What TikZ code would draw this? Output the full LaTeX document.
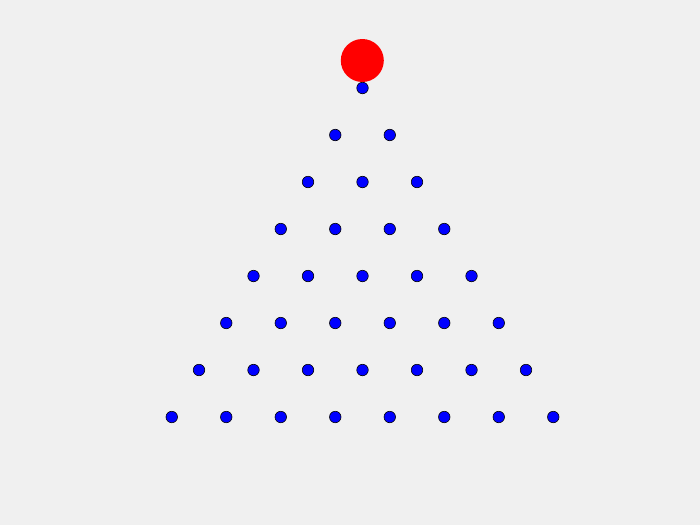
\documentclass[tikz,border=0pt]{standalone}
\definecolor{bg}{HTML}{F0F0F0}
\begin{document}
\begin{tikzpicture}[x=1pt,y=-1pt,
  peg/.style={circle,draw=black,line width=0.6pt,fill=blue,minimum size=11.5pt,inner sep=0pt},
  ball/.style={circle,fill=red,minimum size=43pt,inner sep=0pt}]
\fill[bg] (0,0) rectangle (700,525);
\useasboundingbox (0,0) rectangle (700,525);
\foreach \k in {1,...,8}{
  \foreach \j in {1,...,\k}{
    \node[peg] (p\k-\j) at ({362.5+(\j-1-(\k-1)/2)*54.5},{88+(\k-1)*47}) {};
  }
}
\node[ball] (ball) at (362.3,60.5) {};
\end{tikzpicture}
\end{document}
